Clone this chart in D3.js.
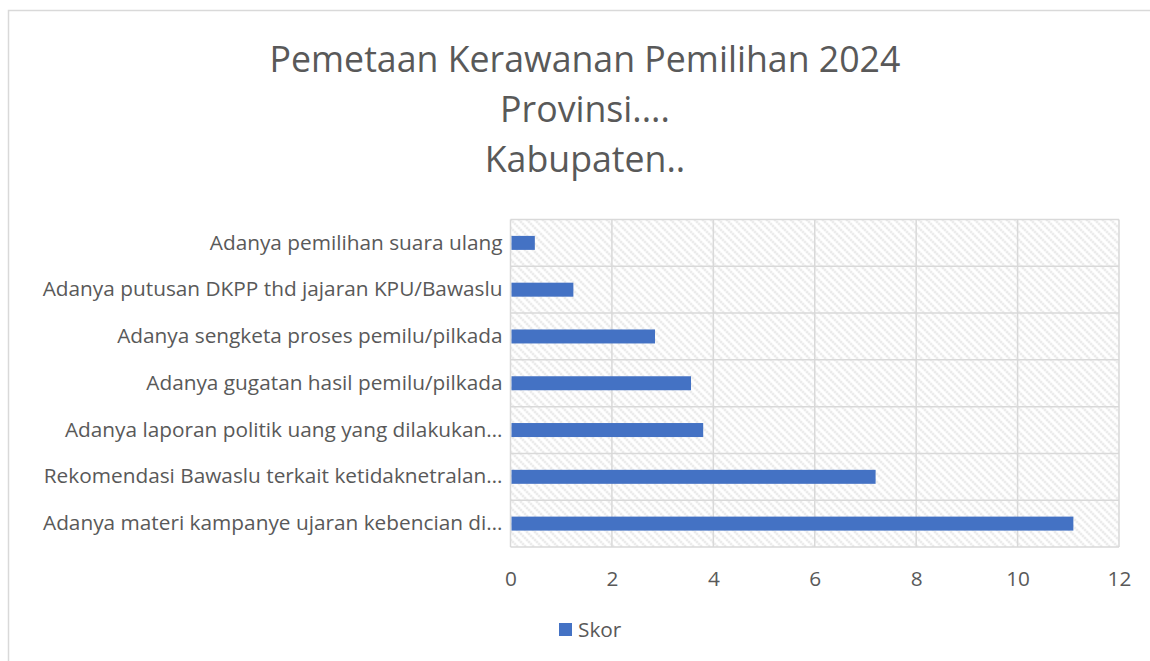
<!DOCTYPE html>
<html>
<head>
<meta charset="utf-8">
<script src="https://cdn.jsdelivr.net/npm/d3@7"></script>
<style>
  body { margin: 0; background: #fff; }
  svg { display: block; font-family: "Open Sans", "Noto Sans", sans-serif; }
</style>
</head>
<body>
<svg id="chart" width="1150" height="661"></svg>
<script>
// data (top to bottom)
var categories = [
  'Adanya pemilihan suara ulang',
  'Adanya putusan DKPP thd jajaran KPU/Bawaslu',
  'Adanya sengketa proses pemilu/pilkada',
  'Adanya gugatan hasil pemilu/pilkada',
  'Adanya laporan politik uang yang dilakukan\u2026',
  'Rekomendasi Bawaslu terkait ketidaknetralan\u2026',
  'Adanya materi kampanye ujaran kebencian di\u2026'
];
var skor = [0.48, 1.24, 2.85, 3.56, 3.8, 7.2, 11.1];
var xTicks = [0, 2, 4, 6, 8, 10, 12];
var titleLines = ['Pemetaan Kerawanan Pemilihan 2024', 'Provinsi....', 'Kabupaten..'];
var seriesName = 'Skor';

var
  svg = d3.select('#chart'),
  margin = {top: 219.5, right: 31, bottom: 114, left: 510.5},
  width = 1150 - margin.left - margin.right,
  height = 661 - margin.top - margin.bottom,
  textColor = '#595959',
  gridColor = '#d9d9d9',
  barColor = '#4472c4',
  font = '"Open Sans", "Noto Sans", sans-serif',
  labelSize = '20.8px'
  ;

// chart border
svg.append('rect')
  .attr('x', 8.5).attr('y', 10.5)
  .attr('width', 1160).attr('height', 670)
  .attr('fill', 'white')
  .attr('stroke', gridColor)
  .attr('stroke-width', 1.5);

// hatch pattern for plot area
var pat = svg.append('defs').append('pattern')
  .attr('id', 'hatch')
  .attr('patternUnits', 'userSpaceOnUse')
  .attr('width', 8).attr('height', 8);
pat.append('rect').attr('width', 8).attr('height', 8).attr('fill', 'white');
pat.append('path')
  .attr('d', 'M-2,-2 L10,10 M-2,6 L2,10 M6,-2 L10,2')
  .attr('stroke', '#dadada')
  .attr('stroke-width', 2.2)
  .attr('stroke-dasharray', '1.6,1.2');

// title
svg.append('text')
  .attr('x', 585)
  .attr('y', 72)
  .attr('text-anchor', 'middle')
  .attr('fill', textColor)
  .attr('font-size', '35.7px')
  .selectAll('tspan')
  .data(titleLines)
  .enter()
  .append('tspan')
  .attr('x', 585)
  .attr('dy', (d, i) => i === 0 ? 0 : 50)
  .text(d => d);

var g = svg.append('g')
  .attr('transform', 'translate(' + margin.left + ',' + margin.top + ')');

var xScale = d3.scaleLinear().domain([0, 12]).range([0, width]);
var yScale = d3.scaleBand().domain(categories).range([0, height]);

g.append('rect')
  .attr('width', width).attr('height', height)
  .attr('fill', 'url(#hatch)');

// horizontal grid at band edges
g.selectAll('.hgrid')
  .data(categories.concat(['end']))
  .enter()
  .append('line')
  .attr('class', 'hgrid')
  .attr('x1', 0).attr('x2', width)
  .attr('y1', (d, i) => i * yScale.step())
  .attr('y2', (d, i) => i * yScale.step())
  .attr('stroke', gridColor)
  .attr('stroke-width', 1.5);

// vertical grid
g.selectAll('.vgrid')
  .data(xTicks)
  .enter()
  .append('line')
  .attr('class', 'vgrid')
  .attr('x1', d => xScale(d)).attr('x2', d => xScale(d))
  .attr('y1', 0).attr('y2', height)
  .attr('stroke', gridColor)
  .attr('stroke-width', 1.5);

// bars
var barH = 14;
g.selectAll('.bar')
  .data(skor)
  .enter()
  .append('rect')
  .attr('class', 'bar')
  .attr('x', xScale(0) + 1)
  .attr('y', (d, i) => yScale(categories[i]) + (yScale.bandwidth() - barH) / 2)
  .attr('width', d => xScale(d) - xScale(0) - 1)
  .attr('height', barH)
  .attr('fill', barColor);

// x axis labels
var xAxis = d3.axisBottom(xScale).tickValues(xTicks).tickSize(0).tickPadding(24);
g.append('g')
  .attr('class', 'axis axis--x')
  .attr('transform', 'translate(0,' + height + ')')
  .call(xAxis)
  .call(a => a.select('.domain').remove())
  .selectAll('text')
  .attr('fill', textColor)
  .attr('font-size', labelSize)
  .attr('font-family', font);

// y axis labels
var yAxis = d3.axisLeft(yScale).tickSize(0).tickPadding(8);
g.append('g')
  .attr('class', 'axis axis--y')
  .call(yAxis)
  .call(a => a.select('.domain').remove())
  .selectAll('text')
  .attr('fill', textColor)
  .attr('font-size', labelSize)
  .attr('font-family', font);

// legend
var legend = svg.append('g').attr('transform', 'translate(559,623)');
legend.append('rect')
  .attr('width', 13).attr('height', 13)
  .attr('fill', barColor);
legend.append('text')
  .attr('x', 19).attr('y', 14)
  .attr('fill', textColor)
  .attr('font-size', labelSize)
  .text(seriesName);
</script>
</body>
</html>
